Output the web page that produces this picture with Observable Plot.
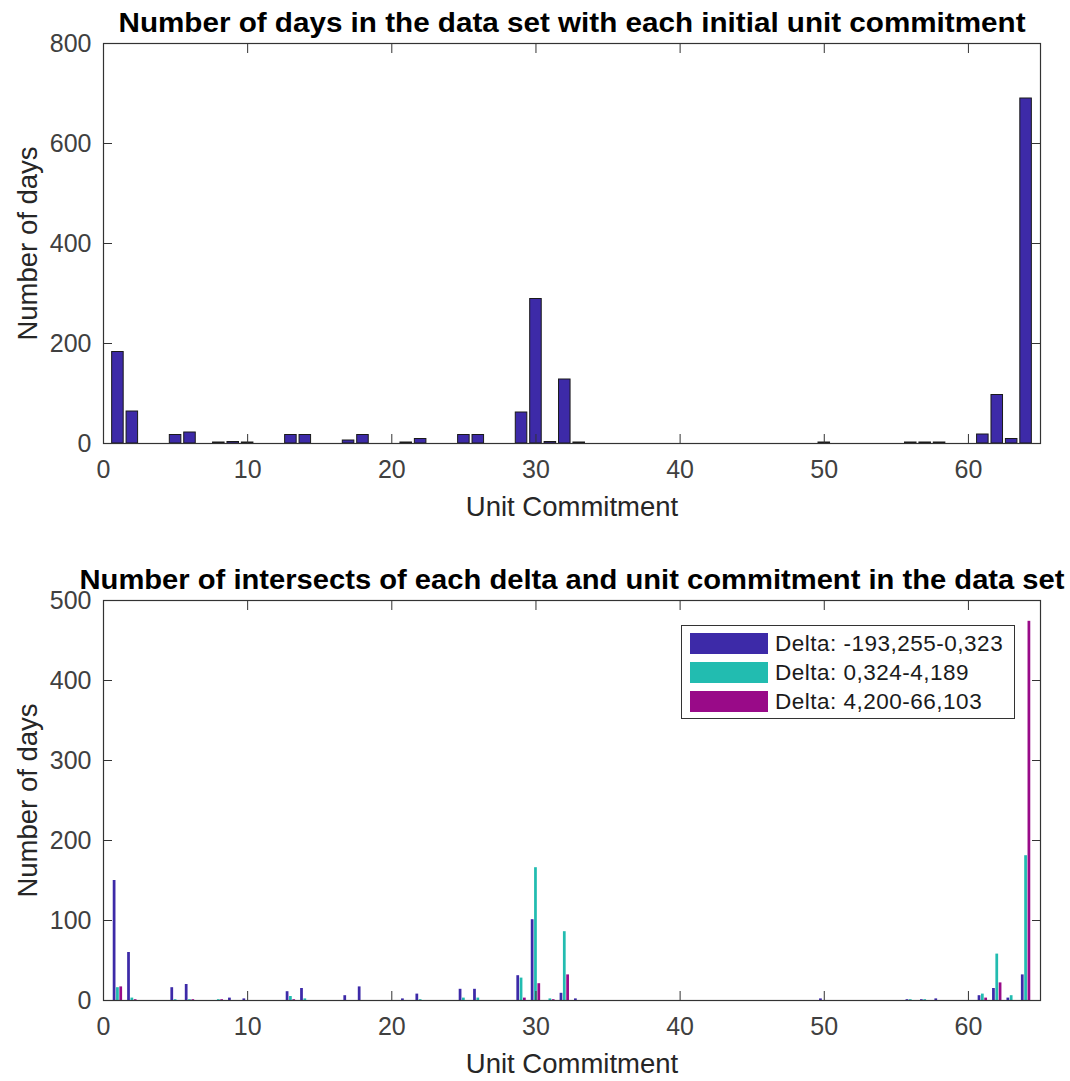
<!DOCTYPE html>
<html>
<head>
<meta charset="utf-8">
<script src="https://cdn.jsdelivr.net/npm/d3@7"></script>
<script src="https://cdn.jsdelivr.net/npm/@observablehq/plot@0.6"></script>
<style>
  body { margin: 0; background: #fff; font-family: "Liberation Sans", Arial, Helvetica, sans-serif; }
  #wrap { position: relative; width: 1070px; height: 1081px; overflow: hidden; }
  #wrap svg { display: block; overflow: visible; }
  #legend { position: absolute; left: 681px; top: 625px; width: 334px; border: 1px solid #333; background: #fff; box-sizing: border-box; padding: 3px 0 2px 8px; }
  .lrow { display: flex; align-items: center; height: 29px; }
  .lsw { width: 78px; height: 21px; margin-right: 7px; flex: none; }
  .ltx { font-size: 22.5px; color: #1a1a1a; letter-spacing: 0.5px; white-space: nowrap; }
</style>
</head>
<body>
<div id="wrap">
  <div id="c1"></div>
  <div id="c2"></div>
  <div id="legend"></div>
</div>
<script>
// ---------- data ----------
const titleTop = "Number of days in the data set with each initial unit commitment";
const titleBottom = "Number of intersects of each delta and unit commitment in the data set";
const xLabel = "Unit Commitment";
const yLabel = "Number of days";

const xTicks = [0, 10, 20, 30, 40, 50, 60];
const yTicksTop = [0, 200, 400, 600, 800];
const yTicksBottom = [0, 100, 200, 300, 400, 500];

const unitsTop = [1, 2, 5, 6, 8, 9, 10, 13, 14, 17, 18, 21, 22, 25, 26, 29, 30, 31, 32, 33, 50, 56, 57, 58, 61, 62, 63, 64];
const daysTop  = [183, 64, 17, 22, 2, 3, 2, 17, 17, 6, 17, 2, 9, 17, 17, 62, 289, 3, 128, 2, 2, 2, 2, 2, 18, 97, 9, 690];

const seriesNames = ["Delta: -193,255-0,323", "Delta: 0,324-4,189", "Delta: 4,200-66,103"];
const seriesColors = ["#3d2aa8", "#22bcb0", "#990a88"];

const unitsBottom = [1, 2, 5, 6, 8, 9, 10, 13, 14, 17, 18, 21, 22, 25, 26, 29, 30, 31, 32, 33, 50, 56, 57, 58, 61, 62, 63, 64];
const deltaLow  = [150, 60, 16, 20, 0, 3, 2, 11, 15, 6, 17, 2, 8, 14, 14, 31, 101, 0, 9, 2, 2, 1, 1, 2, 6, 15, 3, 32];
const deltaMid  = [16, 3, 1, 1, 1, 0, 0, 5, 2, 0, 0, 0, 1, 3, 3, 28, 166, 2, 86, 0, 0, 1, 1, 0, 8, 58, 6, 181];
const deltaHigh = [17, 1, 0, 1, 1, 0, 0, 1, 0, 0, 0, 0, 0, 0, 0, 3, 21, 1, 32, 0, 0, 0, 0, 0, 3, 22, 0, 474];

// ---------- tables ----------
const topRows = unitsTop.map((u, i) => ({unit: u, days: daysTop[i]}));
const seriesValues = [deltaLow, deltaMid, deltaHigh];
const bottomRows = [];
unitsBottom.forEach((u, i) => {
  seriesValues.forEach((vals, s) => {
    if (vals[i] > 0) bottomRows.push({unit: u, series: seriesNames[s], s, value: vals[i]});
  });
});

const font = "'Liberation Sans', Arial, Helvetica, sans-serif";
const axisColor = "#333";
const tickTextColor = "#404040";
const barW = 0.8;
const groupOff = [-0.23, 0, 0.23];
const subW = 0.19;

function axes(yTicks) {
  return [
    Plot.axisX(xTicks, {anchor: "bottom", tickSize: -9, tickPadding: 26, fontSize: 25, color: tickTextColor, stroke: axisColor, label: null}),
    Plot.axisX(xTicks, {anchor: "top", tickSize: -9, tickFormat: () => "", stroke: axisColor, label: null}),
    Plot.axisY(yTicks, {anchor: "left", tickSize: -9, tickPadding: 21, fontSize: 25, color: tickTextColor, stroke: axisColor, label: null}),
    Plot.axisY(yTicks, {anchor: "right", tickSize: -9, tickFormat: () => "", stroke: axisColor, label: null}),
    Plot.frame({stroke: axisColor, strokeWidth: 1.2}),
    Plot.text([xLabel], {frameAnchor: "bottom", dy: 64, textAnchor: "middle", lineAnchor: "middle", fontSize: 27.5, fill: "#262626"}),
    Plot.text([yLabel], {frameAnchor: "left", dx: -75, rotate: -90, textAnchor: "middle", lineAnchor: "middle", fontSize: 27.5, fill: "#262626"})
  ];
}

const chart1 = Plot.plot({
  width: 1070, height: 540,
  marginTop: 43, marginBottom: 97, marginLeft: 103, marginRight: 30,
  style: {fontFamily: font, background: "#fff", overflow: "visible"},
  x: {domain: [0, 65], label: null},
  y: {domain: [0, 800], label: null},
  marks: [
    Plot.rect(topRows, {x1: d => d.unit - barW / 2, x2: d => d.unit + barW / 2, y1: 0, y2: "days", fill: seriesColors[0], stroke: "#1a1a1a", strokeWidth: 1}),
    ...axes(yTicksTop),
    Plot.text([titleTop], {frameAnchor: "top", dy: -12, textAnchor: "middle", lineAnchor: "bottom", fontSize: 27, fontWeight: "bold", fill: "#000", className: "ttl-top"})
  ]
});

const chart2 = Plot.plot({
  width: 1070, height: 541,
  marginTop: 60, marginBottom: 81, marginLeft: 103, marginRight: 30,
  style: {fontFamily: font, background: "#fff", overflow: "visible"},
  x: {domain: [0, 65], label: null},
  y: {domain: [0, 500], label: null},
  color: {domain: seriesNames, range: seriesColors},
  marks: [
    Plot.rect(bottomRows, {x1: d => d.unit + groupOff[d.s] - subW / 2, x2: d => d.unit + groupOff[d.s] + subW / 2, y1: 0, y2: "value", fill: "series"}),
    ...axes(yTicksBottom),
    Plot.text([titleBottom], {frameAnchor: "top", dy: -12, textAnchor: "middle", lineAnchor: "bottom", fontSize: 27, fontWeight: "bold", fill: "#000", className: "ttl-bottom"})
  ]
});

// stretch the titles to the width they occupy in the original figure
d3.select(chart1).selectAll(".ttl-top text").attr("textLength", 907).attr("lengthAdjust", "spacingAndGlyphs");
d3.select(chart2).selectAll(".ttl-bottom text").attr("textLength", 985).attr("lengthAdjust", "spacingAndGlyphs");

document.getElementById("c1").appendChild(chart1);
document.getElementById("c2").appendChild(chart2);

const legend = document.getElementById("legend");
seriesNames.forEach((name, i) => {
  const row = document.createElement("div");
  row.className = "lrow";
  const sw = document.createElement("div");
  sw.className = "lsw";
  sw.style.background = seriesColors[i];
  const tx = document.createElement("div");
  tx.className = "ltx";
  tx.textContent = name;
  row.appendChild(sw);
  row.appendChild(tx);
  legend.appendChild(row);
});
</script>
</body>
</html>
